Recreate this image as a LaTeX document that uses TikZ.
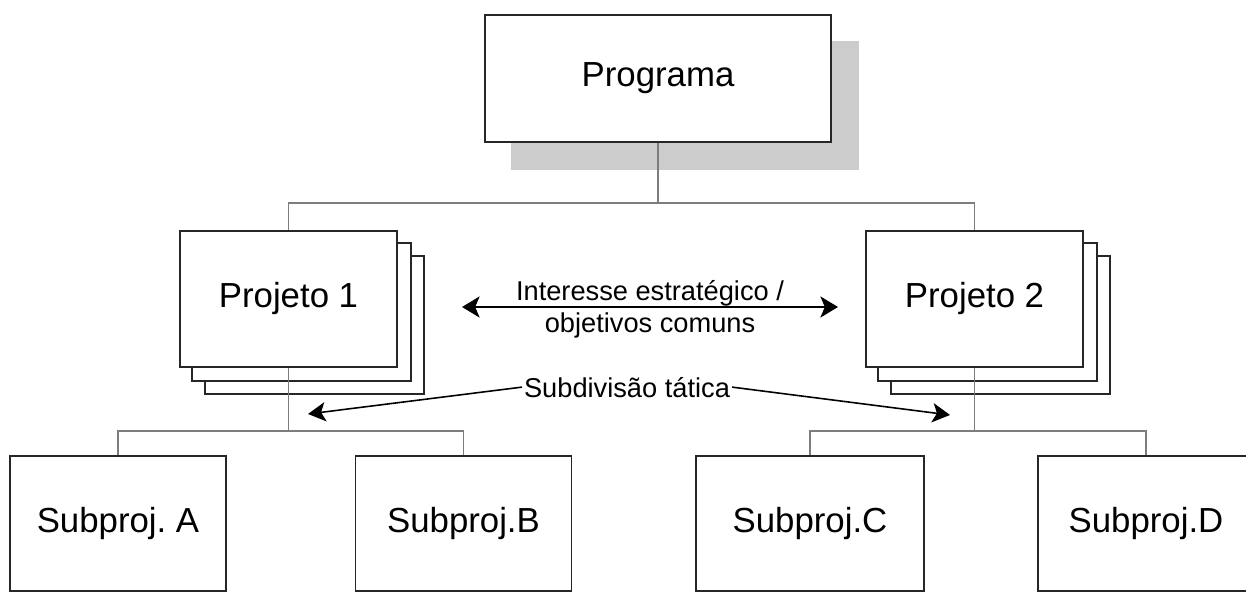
\documentclass[tikz,border=0pt]{standalone}
\usepackage{fontspec}
\setmainfont{Liberation Sans}
\usetikzlibrary{calc,positioning,arrows.meta,backgrounds}
\definecolor{shadec}{RGB}{204,204,204}
\definecolor{treec}{RGB}{125,125,125}
\tikzset{
  blk/.style={rectangle,draw=black!85,fill=white,line width=1.1pt,inner sep=0pt,font=\fontsize{19.8}{22}\selectfont},
  prg/.style={blk,minimum width=6.92cm,minimum height=2.54cm},
  prj/.style={blk,minimum width=4.34cm,minimum height=2.72cm},
  sub/.style={blk,minimum width=4.32cm,minimum height=2.7cm},
  stack/.style={draw=black!85,fill=white,line width=1.1pt},
  tree/.style={treec,line width=1pt},
  lbl/.style={font=\fontsize{15.5}{18}\selectfont,inner sep=1pt},
  link/.style={{Stealth[length=10pt,width=12pt,inset=2.5pt]}-{Stealth[length=10pt,width=12pt,inset=2.5pt]},line width=1.2pt,black},
  hint/.style={-{Stealth[length=10pt,width=11pt,inset=2.5pt]},line width=0.9pt,black},
}

\begin{document}
\begin{tikzpicture}[x=0.02cm,y=-0.02cm]
  \useasboundingbox (0,0) rectangle (1246,608);
  % boxes
  \node[prg] (prog) at (658,78.5) {Programa};
  \node[prj] (prj1) at (288.5,299) {Projeto 1};
  \node[prj] (prj2) at (974.5,299) {Projeto 2};
  \node[sub] (subA) at (118,523.5) {Subproj.\ A};
  \node[sub] (subB) at (463.5,523.5) {Subproj.B};
  \node[sub,minimum width=4.56cm] (subC) at (810,523.5) {Subproj.C};
  \node[sub] (subD) at (1146,523.5) {Subproj.D};
  \begin{scope}[on background layer]
    \fill[shadec] ($(prog.north west)+(27,27)$) rectangle ($(prog.south east)+(27,27)$);
    \foreach \p in {prj1,prj2}{
      \foreach \d in {26,13}{
        \draw[stack] ($(\p.north west)+(\d,\d)$) rectangle ($(\p.south east)+(\d,\d)$);}}
  \end{scope}
  % tree
  \coordinate (j0) at (658,203);
  \draw[tree] (prog.south) -- (j0) -| (prj1.north);
  \draw[tree] (j0) -| (prj2.north);
  \path (prj1.south) ++(0,63) coordinate (j1);
  \path (prj2.south) ++(0,63) coordinate (j2);
  \draw[tree] (prj1.south) -- (j1) -| (subA.north);
  \draw[tree] (j1) -| (subB.north);
  \draw[tree] (prj2.south) -- (j2) -| (subC.north);
  \draw[tree] (j2) -| (subD.north);
  % labels
  \node[lbl,anchor=base] (int1) at (650,300) {Interesse estratégico /};
  \node[lbl,anchor=base] (int2) at (650,332) {objetivos comuns};
  \coordinate (lk1) at (462,307);
  \coordinate (lk2) at (838,307);
  \draw[link] (lk1) -- (lk2);
  \node[lbl,anchor=base] (tat) at (627,397) {Subdivisão tática};
  \coordinate (tl) at (308,414);
  \coordinate (tr) at (950,415);
  \draw[hint] (tat.west) -- (tl);
  \draw[hint] (tat.east) -- (tr);
\end{tikzpicture}
\end{document}
